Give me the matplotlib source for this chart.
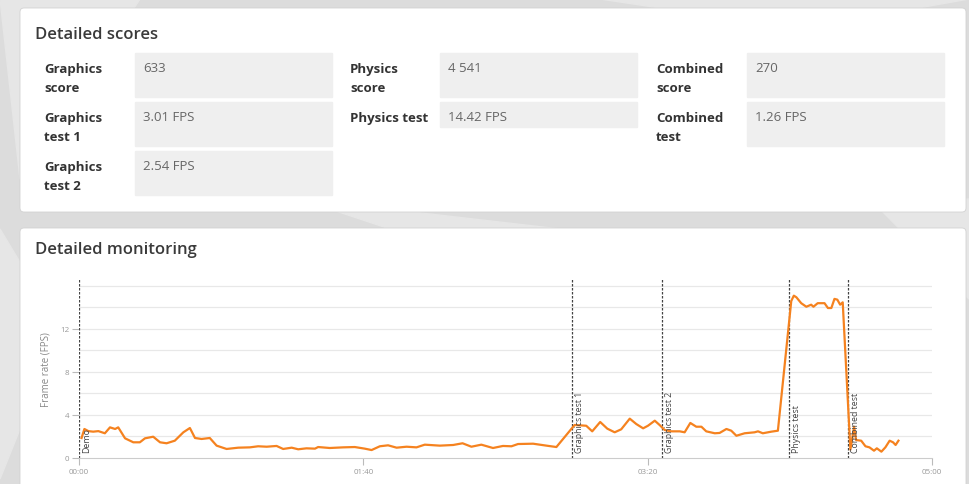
import matplotlib.pyplot as plt
from matplotlib.patches import FancyBboxPatch, Polygon

plt.rcParams['font.family'] = ['Open Sans', 'DejaVu Sans']

# score table
score_labels = [['Graphics\nscore', 'Graphics\ntest 1', 'Graphics\ntest 2'],
                ['Physics\nscore', 'Physics test'],
                ['Combined\nscore', 'Combined\ntest']]
score_values = [['633', '3.01 FPS', '2.54 FPS'],
                ['4 541', '14.42 FPS'],
                ['270', '1.26 FPS']]

# monitoring data (seconds, FPS)
time_s = [0.9, 1.9, 3.3, 5.0, 6.8, 9.1, 10.9, 12.7, 13.8, 16.2,
          19.1, 21.4, 23.2, 26.1, 28.5, 30.8, 33.7, 36.7, 39.0, 40.8,
          43.1, 46.0, 48.4, 51.9, 56.0, 60.1, 63.0, 66.0, 69.5, 71.8,
          74.8, 77.1, 80.0, 83.0, 84.1, 88.2, 92.9, 97.0, 100.5, 102.9,
          105.8, 108.7, 111.7, 115.2, 118.7, 121.6, 126.9, 131.6, 134.9, 138.0,
          141.5, 145.6, 149.1, 152.1, 154.4, 159.7, 164.4, 167.9, 174.3, 178.4,
          180.5, 183.3, 185.8, 188.4, 190.7, 193.7, 196.0, 198.4, 200.1, 202.5,
          204.2, 206.0, 208.3, 211.3, 213.0, 215.0, 217.1, 218.9, 220.6, 223.6,
          225.3, 227.7, 229.4, 231.2, 234.1, 237.6, 238.8, 240.5, 243.5, 245.8,
          250.5, 251.4, 252.3, 254.0, 255.8, 257.5, 258.3, 259.8, 262.2, 263.4,
          264.6, 265.7, 266.7, 267.7, 268.6, 271.3, 272.6, 273.3, 275.1, 276.6,
          278.0, 279.6, 280.6, 282.2, 283.6, 285.1, 286.3, 287.2, 288.2]
fps = [1.86, 2.7, 2.5, 2.45, 2.5, 2.3, 2.85, 2.7, 2.85, 1.83,
       1.46, 1.46, 1.83, 1.98, 1.46, 1.37, 1.61, 2.39, 2.79, 1.86,
       1.77, 1.86, 1.15, 0.84, 0.96, 0.99, 1.09, 1.05, 1.12, 0.84,
       0.96, 0.81, 0.9, 0.87, 1.02, 0.93, 0.99, 1.02, 0.87, 0.74,
       1.09, 1.18, 0.96, 1.05, 0.99, 1.24, 1.15, 1.21, 1.37, 1.05,
       1.24, 0.93, 1.12, 1.09, 1.3, 1.33, 1.15, 1.02, 3.07, 3.0,
       2.48, 3.35, 2.73, 2.39, 2.67, 3.66, 3.16, 2.76, 3.0, 3.47,
       3.07, 2.6, 2.48, 2.48, 2.39, 3.26, 2.91, 2.91, 2.48, 2.3,
       2.33, 2.7, 2.54, 2.07, 2.3, 2.39, 2.48, 2.3, 2.45, 2.54,
       14.6, 15.1, 14.95, 14.4, 14.07, 14.26, 14.07, 14.4, 14.4, 13.95,
       13.95, 14.8, 14.73, 14.26, 14.48, 0.78, 2.91, 1.67, 1.61, 1.09,
       0.99, 0.68, 0.9, 0.59, 0.99, 1.61, 1.46, 1.21, 1.61]

marker_times = [0, 173.3, 204.9, 249.6, 270.3]
marker_names = ['Demo', 'Graphics test 1', 'Graphics test 2', 'Physics test', 'Combined test']

x_ticks = [0, 100, 200, 300]
x_tick_labels = ['00:00', '01:40', '03:20', '05:00']

W, H = 969, 485
fig = plt.figure(figsize=(W / 100, H / 100), dpi=100)

# page background, pixel coordinates
bg = fig.add_axes([0, 0, 1, 1])
bg.set_xlim(0, W)
bg.set_ylim(H, 0)
bg.axis('off')
bg.add_patch(plt.Rectangle((0, 0), W, H, color='#dcdcdc', zorder=0))
shapes = [[(0, 0), (140, 0), (20, 180)], [(600, 0), (969, 0), (800, 30)],
          [(0, 230), (60, 330), (0, 480)], [(300, 200), (560, 230), (420, 240)],
          [(880, 210), (969, 200), (969, 300)]]
for pts in shapes:
    bg.add_patch(Polygon(pts, closed=True, color='#e6e6e6', zorder=0.5))

for y0, h in [(9, 204), (229, 270)]:
    bg.add_patch(FancyBboxPatch((20, y0), 946, h, boxstyle='round,pad=0,rounding_size=4',
                                facecolor='white', edgecolor='#d2d2d2', lw=0.6, zorder=1))

bg.text(35, 39, 'Detailed scores', fontsize=12, fontweight='semibold', color='#3a3a3a', zorder=3)
bg.text(35, 254, 'Detailed monitoring', fontsize=12, fontweight='semibold', color='#3a3a3a', zorder=3)

col_x = [(44, 135), (350, 440), (656, 747)]
row_top = [54, 103, 152]
for c, (lx, bx) in enumerate(col_x):
    for r, (lab, val) in enumerate(zip(score_labels[c], score_values[c])):
        top = row_top[r]
        box_h = 44 if '\n' in lab else 25
        bg.add_patch(plt.Rectangle((bx, top), 197, box_h, color='#efefef', zorder=2))
        for i, line in enumerate(lab.split('\n')):
            bg.text(lx, top + 18.7 + 19 * i, line, fontsize=9.5, fontweight='bold',
                    color='#333333', zorder=3)
        bg.text(bx + 8, top + 18.3, val, fontsize=9.5, color='#666666', zorder=3)

# monitoring chart
ax = fig.add_axes([79 / W, (H - 459) / H, (932 - 79) / W, (459 - 280) / H])
ax.set_facecolor('none')
ax.set_xlim(0, 300)
ax.set_ylim(0, 16.65)
for g in range(2, 17, 2):
    ax.axhline(g, color='#e8e8e8', lw=0.9, zorder=1)
ax.plot(time_s, fps, color='#f5821f', lw=1.6, zorder=3)

for t, name in zip(marker_times, marker_names):
    ax.axvline(t, color='#444444', lw=0.9, ls=(0, (2, 1.2)), zorder=2)
    ax.annotate(name, xy=(t, 0), xytext=(2.6, 4.5), textcoords='offset points',
                rotation=90, ha='left', va='bottom', fontsize=6.3, color='#444444', zorder=4)

for s in ['top', 'right', 'left']:
    ax.spines[s].set_visible(False)
ax.spines['bottom'].set_color('#cccccc')
ax.spines['bottom'].set_zorder(5)
ax.set_xticks(x_ticks)
ax.set_xticklabels(x_tick_labels)
ax.set_yticks([0, 4, 8, 12])
ax.tick_params(axis='both', colors='#bbbbbb', labelcolor='#999999', labelsize=5.8,
               length=5, width=0.8, pad=2)
ax.set_ylabel('Frame rate (FPS)', fontsize=7, color='#888888', labelpad=6)

fig.savefig('out.png', dpi=100)
